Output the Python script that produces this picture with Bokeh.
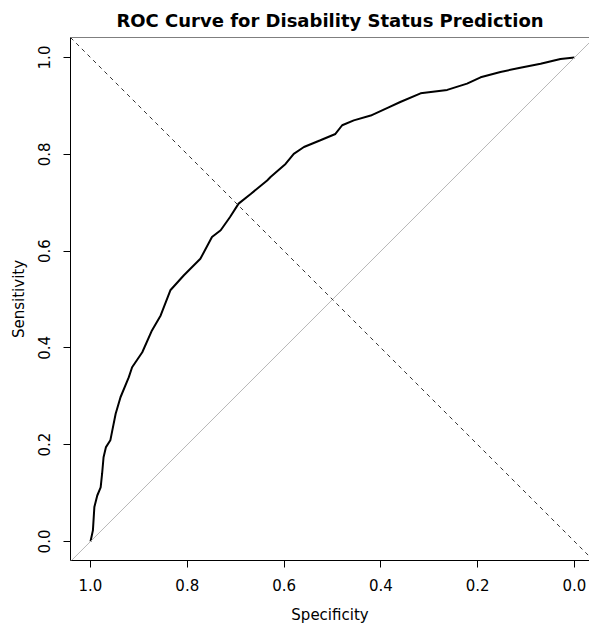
from bokeh.plotting import figure
from bokeh.models import Range1d, Slope, Span, FixedTicker, NumeralTickFormatter
from bokeh.embed import file_html
from bokeh.resources import INLINE

# ROC curve
specificity = [1.000, 0.995, 0.992, 0.986, 0.979, 0.976, 0.973, 0.968, 0.959, 0.955,
               0.948, 0.938, 0.921, 0.914, 0.893, 0.873, 0.855, 0.835, 0.807, 0.773,
               0.749, 0.731, 0.712, 0.694, 0.669, 0.635, 0.628, 0.597, 0.580, 0.559,
               0.525, 0.494, 0.480, 0.456, 0.421, 0.384, 0.360, 0.318, 0.263, 0.222,
               0.194, 0.153, 0.112, 0.070, 0.029, 0.000]
sensitivity = [0.000, 0.023, 0.071, 0.095, 0.112, 0.140, 0.174, 0.195, 0.209, 0.229,
               0.264, 0.298, 0.339, 0.360, 0.391, 0.436, 0.467, 0.519, 0.550, 0.584,
               0.629, 0.643, 0.670, 0.698, 0.718, 0.746, 0.753, 0.780, 0.801, 0.815,
               0.829, 0.842, 0.860, 0.870, 0.880, 0.897, 0.908, 0.926, 0.933, 0.946,
               0.959, 0.970, 0.979, 0.987, 0.997, 1.000]
tick_values = [0.0, 0.2, 0.4, 0.6, 0.8, 1.0]
title_text = "ROC Curve for Disability Status Prediction"

FONT = "DejaVu Sans"

p = figure(width=589, height=626, output_backend="svg", toolbar_location=None,
           x_range=Range1d(1.0413, -0.031), y_range=Range1d(-0.0393, 1.0413),
           min_border_left=70, min_border_right=0, min_border_top=37, min_border_bottom=66,
           title=title_text)
p.title.text_font = FONT
p.title.text_font_size = "18px"
p.title.text_font_style = "bold"
p.title.align = "center"
p.title.text_color = "black"
p.title.standoff = 13

p.grid.visible = False
p.outline_line_color = None
p.background_fill_color = "white"
p.border_fill_color = "white"

for ax in (p.xaxis[0], p.yaxis[0]):
    ax.ticker = FixedTicker(ticks=tick_values)
    ax.formatter = NumeralTickFormatter(format="0.0")
    ax.minor_tick_line_color = None
    ax.major_tick_in = 0
    ax.major_tick_out = 7
    ax.major_tick_line_color = "black"
    ax.axis_line_color = "black"
    ax.major_label_text_font = FONT
    ax.major_label_text_font_size = "15px"
    ax.major_label_text_color = "black"
    ax.axis_label_text_font = FONT
    ax.axis_label_text_font_size = "15px"
    ax.axis_label_text_font_style = "normal"
    ax.axis_label_text_color = "black"

p.xaxis[0].axis_label = "Specificity"
p.xaxis[0].major_label_standoff = 11
p.xaxis[0].axis_label_standoff = 12
p.yaxis[0].axis_label = "Sensitivity"
p.yaxis[0].major_label_orientation = "vertical"
p.yaxis[0].major_label_standoff = 13
p.yaxis[0].axis_label_standoff = 8

# top border of the box
p.add_layout(Span(location=1.0413, dimension="width", line_color="black", line_width=1))

# chance diagonal and sens = spec reference
p.add_layout(Slope(gradient=-1, y_intercept=1, line_color="#B8B8B8", line_width=1))
p.add_layout(Slope(gradient=1, y_intercept=0, line_color="#333333", line_width=1,
                   line_dash="4 4"))

p.line(specificity, sensitivity, line_color="black", line_width=2)

open("out.html", "w").write(file_html(p, INLINE))
